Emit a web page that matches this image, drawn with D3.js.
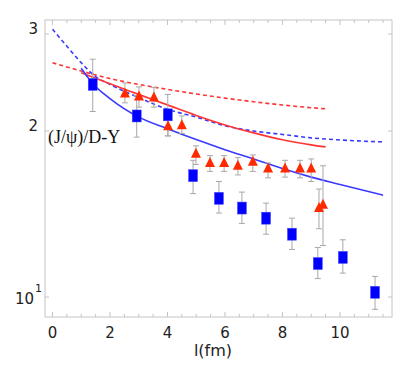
<!DOCTYPE html>
<html>
<head>
<meta charset="utf-8">
<script src="https://cdn.jsdelivr.net/npm/d3@7"></script>
<style>
  body { margin: 0; background: #fff; }
  svg { display: block; }
  .tick-label { font-family: "DejaVu Sans", sans-serif; font-size: 15px; fill: #222; }
</style>
</head>
<body>
<svg id="chart" width="409" height="382"></svg>
<script>
// --- data ---
// blue squares
var blueL  = [1.40, 2.93, 4.01, 4.89, 5.79, 6.59, 7.43, 8.33, 9.23, 10.10, 11.22];
var blueR  = [24.3, 21.3, 21.4, 16.6, 15.1, 14.5, 13.9, 13.0, 11.5, 11.8, 10.2];
var blueLo = [21.7, 19.5, 19.6, 15.4, 14.2, 13.6, 13.0, 12.2, 10.8, 11.05, 9.5];
var blueHi = [27.0, 23.2, 23.3, 17.7, 16.2, 15.5, 14.8, 13.9, 12.3, 12.7, 10.9];

// red triangles
var redL  = [2.52, 3.01, 3.53, 4.02, 4.50, 4.99, 5.48, 5.97, 6.45, 6.97, 7.50, 8.09, 8.61, 9.00, 9.27, 9.41];
var redR  = [23.4, 23.1, 23.0, 20.4, 20.5, 18.2, 17.5, 17.5, 17.3, 17.6, 17.1, 17.1, 17.1, 17.1, 14.5, 14.7];
var redLo = [22.5, 22.1, 22.1, 19.6, 19.8, 17.4, 16.9, 16.9, 16.65, 16.9, 16.45, 16.5, 16.45, 16.2, 13.3, 12.4];
var redHi = [24.45, 24.05, 24.0, 21.2, 21.3, 18.8, 18.05, 18.05, 17.9, 18.1, 17.5, 17.7, 17.7, 17.8, 15.7, 17.3];

// model curves
var blueSolidL = [1.0, 1.4, 2.0, 3.0, 4.0, 5.0, 6.0, 7.0, 8.0, 9.0, 10.0, 11.5];
var blueSolidR = [26.0, 24.4, 22.9, 21.2, 20.2, 19.3, 18.5, 17.8, 17.1, 16.5, 16.0, 15.3];

var blueDashL = [0, 0.5, 1.0, 1.5, 2, 3, 4, 5, 6, 7, 8, 9, 10, 11.5];
var blueDashR = [30.6, 28.5, 26.6, 25.1, 24.3, 23.0, 21.9, 21.2, 20.45, 20.0, 19.72, 19.44, 19.27, 19.11];

var redSolidL = [1.0, 2, 3, 4, 5, 6, 7, 8, 9, 9.5];
var redSolidR = [25.5, 24.36, 23.31, 22.31, 21.35, 20.52, 19.85, 19.28, 18.88, 18.72];

var redDashL = [0, 1, 2, 3, 4, 5, 6, 7, 8, 9, 9.5];
var redDashR = [26.6, 25.7, 24.9, 24.3, 23.8, 23.35, 22.95, 22.6, 22.3, 22.05, 21.95];

var xTicks = [0, 2, 4, 6, 8, 10];
var yTicks = [10, 20, 30];
var yTickText = { 10: "10", 20: "2", 30: "3" };

// --- layout ---
var frame = { left: 45, right: 392, top: 20, bottom: 317 };
var blue = "#0000ff", red = "#ff2a00";
var blueLine = "#3a3aff", redLine = "#ff3535";

var x = d3.scaleLinear().domain([-0.26, 11.81]).range([frame.left, frame.right]);
var y = d3.scaleLog().domain([9.2, 31.8]).range([frame.bottom, frame.top]);

var svg = d3.select("#chart");

// frame
svg.append("rect")
    .attr("x", frame.left).attr("y", frame.top)
    .attr("width", frame.right - frame.left)
    .attr("height", frame.bottom - frame.top)
    .attr("fill", "none").attr("stroke", "#c4c4c4").attr("stroke-width", 1);

// x ticks (inward, bottom and top)
var xMinor = d3.range(0, 11.6, 0.5).filter(function(v) { return v % 2 !== 0; });
var tickG = svg.append("g").attr("stroke", "#c4c4c4").attr("stroke-width", 1);

xTicks.forEach(function(v) {
    tickG.append("line").attr("x1", x(v)).attr("x2", x(v)).attr("y1", frame.bottom).attr("y2", frame.bottom - 5);
    tickG.append("line").attr("x1", x(v)).attr("x2", x(v)).attr("y1", frame.top).attr("y2", frame.top + 5);
});
xMinor.forEach(function(v) {
    tickG.append("line").attr("x1", x(v)).attr("x2", x(v)).attr("y1", frame.bottom).attr("y2", frame.bottom - 3);
    tickG.append("line").attr("x1", x(v)).attr("x2", x(v)).attr("y1", frame.top).attr("y2", frame.top + 3);
});
yTicks.forEach(function(v) {
    tickG.append("line").attr("x1", frame.left).attr("x2", frame.left + 4).attr("y1", y(v)).attr("y2", y(v));
    tickG.append("line").attr("x1", frame.right).attr("x2", frame.right - 4).attr("y1", y(v)).attr("y2", y(v));
});

// tick labels
svg.selectAll(".xl")
    .data(xTicks)
    .enter()
    .append("text")
    .attr("class", "tick-label")
    .attr("x", function(d) { return x(d); })
    .attr("y", frame.bottom + 21)
    .attr("text-anchor", "middle")
    .text(function(d) { return d; });

yTicks.forEach(function(v) {
    svg.append("text")
        .attr("class", "tick-label")
        .attr("x", v === 10 ? 34 : 38)
        .attr("y", v === 10 ? y(v) + 7 : y(v))
        .attr("text-anchor", "end")
        .text(yTickText[v]);
    if (v === 10) {
        svg.append("text")
            .attr("class", "tick-label")
            .attr("x", 35)
            .attr("y", y(v) - 5)
            .style("font-size", "11px")
            .text("1");
    }
});

// axis title
svg.append("text")
    .attr("x", 213).attr("y", 356)
    .attr("text-anchor", "middle")
    .style("font-family", "'DejaVu Sans', sans-serif")
    .style("font-size", "16px")
    .attr("fill", "#222")
    .text("l(fm)");

svg.append("text")
    .attr("x", 48).attr("y", 143)
    .style("font-family", "'Liberation Serif', 'Times New Roman', serif")
    .style("font-size", "18px")
    .attr("fill", "#111")
    .text("(J/\u03c8)/D-Y");

// curves
var line = d3.line()
    .x(function(d) { return x(d[0]); })
    .y(function(d) { return y(d[1]); })
    .curve(d3.curveMonotoneX);

function drawCurve(ls, rs, color, dash) {
    svg.append("path")
        .datum(d3.zip(ls, rs))
        .attr("d", line)
        .attr("fill", "none")
        .attr("stroke", color)
        .attr("stroke-width", 1.6)
        .attr("stroke-dasharray", dash ? "4,3" : null);
}

drawCurve(redDashL, redDashR, redLine, true);
drawCurve(blueDashL, blueDashR, blueLine, true);
drawCurve(redSolidL, redSolidR, redLine, false);
drawCurve(blueSolidL, blueSolidR, blueLine, false);

// error bars
function errBars(ls, lo, hi) {
    var g = svg.append("g").attr("stroke", "#a8a8a8").attr("stroke-width", 1);
    ls.forEach(function(l, i) {
        g.append("line").attr("x1", x(l)).attr("x2", x(l)).attr("y1", y(lo[i])).attr("y2", y(hi[i]));
        g.append("line").attr("x1", x(l) - 3).attr("x2", x(l) + 3).attr("y1", y(lo[i])).attr("y2", y(lo[i]));
        g.append("line").attr("x1", x(l) - 3).attr("x2", x(l) + 3).attr("y1", y(hi[i])).attr("y2", y(hi[i]));
    });
}

errBars(blueL, blueLo, blueHi);
errBars(redL, redLo, redHi);

// markers
svg.selectAll(".sq")
    .data(d3.zip(blueL, blueR))
    .enter()
    .append("rect")
    .attr("x", function(d) { return x(d[0]) - 4.5; })
    .attr("y", function(d) { return y(d[1]) - 6; })
    .attr("width", 9)
    .attr("height", 12)
    .attr("fill", blue)
    .attr("stroke", "#4d4dff")
    .attr("stroke-width", 0.5);

svg.selectAll(".tri")
    .data(d3.zip(redL, redR))
    .enter()
    .append("path")
    .attr("d", function(d) {
        var cx = x(d[0]), cy = y(d[1]);
        return "M" + cx + "," + (cy - 6) + "L" + (cx + 5) + "," + (cy + 4) + "L" + (cx - 5) + "," + (cy + 4) + "Z";
    })
    .attr("fill", red);
</script>
</body>
</html>
